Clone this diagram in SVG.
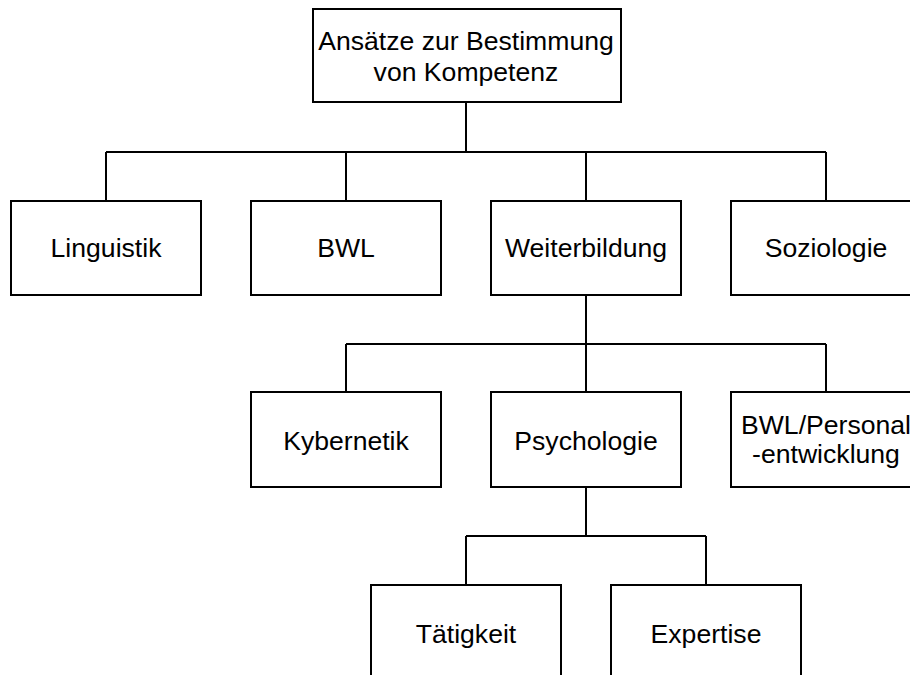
<svg xmlns="http://www.w3.org/2000/svg" width="910" height="675" viewBox="0 0 910 675">
  <style>
    .box { fill: #ffffff; stroke: #000000; stroke-width: 2; }
    .lbl { font-family: "Liberation Sans", Arial, sans-serif; font-size: 26.6px; fill: #000000; text-anchor: middle; }
    .wire { fill: none; stroke: #000000; stroke-width: 2; }
  </style>
  <rect width="910" height="675" fill="#ffffff"/>

  <!-- tree connectors -->
  <g id="connectors" class="wire">
    <path d="M466 102 V152 M106 152 H826 M106 152 V201 M346 152 V201 M586 152 V201 M826 152 V201"/>
    <path d="M586 295 V344 M346 344 H826 M346 344 V392 M586 344 V392 M826 344 V392"/>
    <path d="M586 487 V536 M466 536 H706 M466 536 V585 M706 536 V585"/>
  </g>

  <g id="root">
    <rect class="box" x="313" y="9" width="308" height="93"/>
    <text class="lbl" x="466" y="50">Ansätze zur Bestimmung</text>
    <text class="lbl" x="466" y="81">von Kompetenz</text>
  </g>

  <g id="linguistik">
    <rect class="box" x="11" y="201" width="190" height="94"/>
    <text class="lbl" x="106" y="257">Linguistik</text>
  </g>
  <g id="bwl">
    <rect class="box" x="251" y="201" width="190" height="94"/>
    <text class="lbl" x="346" y="257">BWL</text>
  </g>
  <g id="weiterbildung">
    <rect class="box" x="491" y="201" width="190" height="94"/>
    <text class="lbl" x="586" y="257">Weiterbildung</text>
  </g>
  <g id="soziologie">
    <rect class="box" x="731" y="201" width="190" height="94"/>
    <text class="lbl" x="826" y="257">Soziologie</text>
  </g>

  <g id="kybernetik">
    <rect class="box" x="251" y="392" width="190" height="95"/>
    <text class="lbl" x="346" y="450">Kybernetik</text>
  </g>
  <g id="psychologie">
    <rect class="box" x="491" y="392" width="190" height="95"/>
    <text class="lbl" x="586" y="450">Psychologie</text>
  </g>
  <g id="personalentwicklung">
    <rect class="box" x="731" y="392" width="190" height="95"/>
    <text class="lbl" x="826" y="434">BWL/Personal</text>
    <text class="lbl" x="826" y="463">-entwicklung</text>
  </g>

  <g id="taetigkeit">
    <rect class="box" x="371" y="585" width="190" height="100"/>
    <text class="lbl" x="466" y="643">Tätigkeit</text>
  </g>
  <g id="expertise">
    <rect class="box" x="611" y="585" width="190" height="100"/>
    <text class="lbl" x="706" y="643">Expertise</text>
  </g>
</svg>
